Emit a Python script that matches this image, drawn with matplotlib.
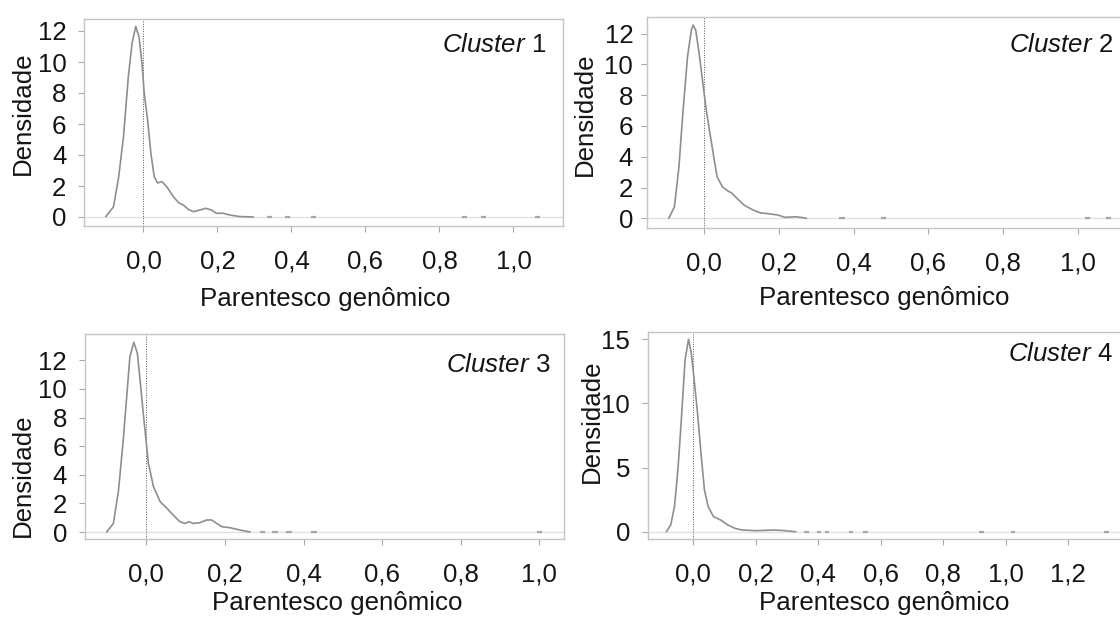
import matplotlib
matplotlib.use("Agg")
import matplotlib.pyplot as plt

plt.rcParams['font.family'] = ['Liberation Sans', 'DejaVu Sans']
plt.rcParams['mathtext.fontset'] = 'custom'
plt.rcParams['mathtext.it'] = 'Liberation Sans:italic'
plt.rcParams['mathtext.rm'] = 'Liberation Sans'

W, H = 1120, 619
FS = 18.6

# Kernel density of genomic relationship, one curve per cluster
c1_x = [-0.102, -0.081, -0.067, -0.054, -0.041, -0.031, -0.021, -0.012, -0.004, 0.002,
        0.011, 0.020, 0.029, 0.038, 0.050, 0.063, 0.081, 0.095, 0.108, 0.121,
        0.135, 0.152, 0.168, 0.184, 0.197, 0.215, 0.233, 0.260, 0.297]
c1_y = [0.02, 0.66, 2.6, 5.2, 9.05, 11.2, 12.3, 11.6, 9.9, 7.98,
        6.26, 4.1, 2.6, 2.2, 2.28, 1.95, 1.3, 0.92, 0.77, 0.49,
        0.34, 0.45, 0.56, 0.45, 0.24, 0.24, 0.13, 0.03, 0.0]
c1_isolated = [0.34, 0.39, 0.46, 0.867, 0.92, 1.065]

c2_x = [-0.094, -0.079, -0.067, -0.056, -0.044, -0.034, -0.029, -0.022, -0.013, -0.003,
        0.006, 0.016, 0.026, 0.035, 0.049, 0.064, 0.073, 0.088, 0.107, 0.131,
        0.150, 0.178, 0.198, 0.217, 0.245, 0.259, 0.274]
c2_y = [0.0, 0.75, 3.35, 7.0, 10.5, 12.2, 12.55, 12.2, 10.7, 8.77,
        7.03, 5.5, 4.0, 2.7, 2.05, 1.77, 1.66, 1.3, 0.86, 0.54,
        0.36, 0.28, 0.21, 0.06, 0.1, 0.06, 0.0]
c2_isolated = [0.369, 0.479, 1.026, 1.081]

c3_x = [-0.101, -0.084, -0.071, -0.059, -0.050, -0.042, -0.032, -0.023, -0.016, -0.008,
        -0.001, 0.005, 0.018, 0.035, 0.052, 0.068, 0.085, 0.098, 0.108, 0.119,
        0.136, 0.153, 0.166, 0.179, 0.192, 0.213, 0.238, 0.264]
c3_y = [0.0, 0.6, 2.9, 6.4, 9.5, 12.26, 13.27, 12.5, 10.6, 8.3,
        6.43, 4.8, 3.17, 2.12, 1.66, 1.19, 0.72, 0.6, 0.72, 0.6,
        0.65, 0.84, 0.84, 0.6, 0.37, 0.3, 0.14, 0.0]
c3_isolated = [0.295, 0.327, 0.363, 0.427, 1.0]

c4_x = [-0.086, -0.072, -0.060, -0.049, -0.038, -0.026, -0.015, -0.006, 0.002, 0.014,
        0.025, 0.036, 0.048, 0.065, 0.088, 0.111, 0.134, 0.156, 0.202, 0.260,
        0.294, 0.328]
c4_y = [0.0, 0.52, 1.95, 4.8, 8.7, 13.4, 15.0, 13.9, 12.1, 9.2,
        6.1, 3.25, 1.95, 1.17, 0.91, 0.52, 0.26, 0.13, 0.08, 0.13,
        0.08, 0.0]
c4_isolated = [0.362, 0.402, 0.429, 0.505, 0.551, 0.922, 1.023, 1.322]

x_ticks_a = [0.0, 0.2, 0.4, 0.6, 0.8, 1.0]
x_ticks_b = [0.0, 0.2, 0.4, 0.6, 0.8, 1.0, 1.2]
y_ticks_a = [0, 2, 4, 6, 8, 10, 12]
y_ticks_b = [0, 5, 10, 15]

cluster_names = ["1", "2", "3", "4"]

# Panel geometry in pixels: frame box, pixel of x=0 and px per unit, pixel of y=0 and px per unit
panels = [
    dict(x=c1_x, y=c1_y, iso=c1_isolated, xt=x_ticks_a, yt=y_ticks_a,
         box=(84, 19, 562.7, 226), x0=143.5, xs=370, y0=217, ys=15.5, ypad=12,
         ylab=(23, 113), xlab=(325, 299), tag=(546, 45)),
    dict(x=c2_x, y=c2_y, iso=c2_isolated, xt=x_ticks_a, yt=y_ticks_a,
         box=(646.8, 17.3, 1135, 227.7), x0=704, xs=374, y0=218.3, ys=15.4, ypad=8,
         ylab=(585, 114), xlab=(884, 298), tag=(1113, 45)),
    dict(x=c3_x, y=c3_y, iso=c3_isolated, xt=x_ticks_a, yt=y_ticks_a,
         box=(84.5, 334, 564.3, 539.3), x0=146.4, xs=393, y0=532, ys=14.3, ypad=12,
         ylab=(23, 475), xlab=(337, 603), tag=(551, 365)),
    dict(x=c4_x, y=c4_y, iso=c4_isolated, xt=x_ticks_b, yt=y_ticks_b,
         box=(647.5, 331.7, 1135, 539), x0=693.2, xs=312.5, y0=531.7, ys=12.83, ypad=12,
         ylab=(592, 421), xlab=(884, 603), tag=(1113, 354)),
]

CURVE = '#8e8e8e'
FRAME = '#c4c4c4'
ZERO = '#e2e2e2'
TEXT = '#141414'

fig = plt.figure(figsize=(W / 100, H / 100), dpi=100)
fig.patch.set_facecolor('white')

for name, p in zip(cluster_names, panels):
    l, t, r, b = p['box']
    ax = fig.add_axes([l / W, 1 - b / H, (r - l) / W, (b - t) / H])
    ax.set_xlim((l - p['x0']) / p['xs'], (r - p['x0']) / p['xs'])
    ax.set_ylim((p['y0'] - b) / p['ys'], (p['y0'] - t) / p['ys'])

    ax.axhline(0, color=ZERO, lw=1.0, zorder=1)
    ax.axvline(0, color='#555555', lw=0.7, ls=(0, (1, 1.5)), zorder=2)
    ax.plot(p['x'], p['y'], color=CURVE, lw=1.2, zorder=3,
            solid_joinstyle='round', solid_capstyle='round')
    for xi in p['iso']:
        ax.plot([xi - 0.007, xi + 0.007], [0, 0], color='#a6a6a6', lw=1.6,
                solid_capstyle='butt', zorder=3)

    for s in ax.spines.values():
        s.set_color(FRAME)
        s.set_linewidth(1.0)

    ax.set_xticks(p['xt'])
    ax.set_xticklabels([f"{v:.1f}".replace('.', ',') for v in p['xt']])
    ax.set_yticks(p['yt'])
    ax.set_yticklabels([str(v) for v in p['yt']])
    ax.tick_params(axis='both', direction='out', length=4, width=0.8, color='#a8a8a8',
                   labelsize=FS, labelcolor=TEXT)
    ax.tick_params(axis='x', pad=13)
    ax.tick_params(axis='y', pad=p['ypad'] * 0.72)

    fig.text(p['ylab'][0] / W, 1 - p['ylab'][1] / H, 'Densidade', rotation=90,
             ha='center', va='center', fontsize=FS, color=TEXT)
    fig.text(p['xlab'][0] / W, 1 - p['xlab'][1] / H, 'Parentesco genômico',
             ha='center', va='center', fontsize=FS, color=TEXT)
    fig.text(p['tag'][0] / W, 1 - p['tag'][1] / H, r'$\mathit{Cluster}$ ' + name,
             ha='right', va='center', fontsize=FS, color=TEXT)

fig.savefig('out.png', dpi=100, facecolor='white')
